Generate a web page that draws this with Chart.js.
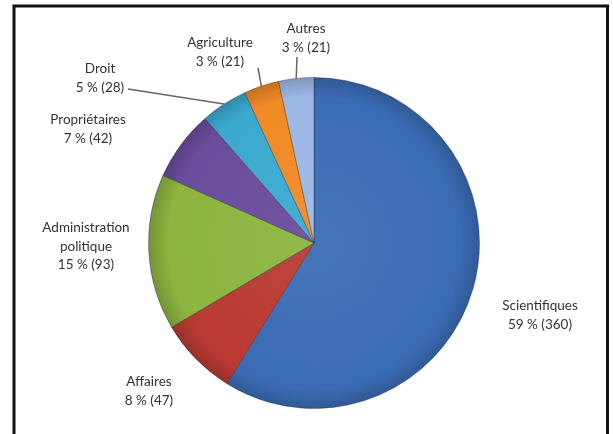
<!DOCTYPE html>
<html>
<head>
<meta charset="utf-8">
<script src="https://cdn.jsdelivr.net/npm/chart.js@4"></script>
<style>
  html, body { margin: 0; padding: 0; background: #fff; }
  #wrap { position: relative; width: 613px; height: 434px; }
</style>
</head>
<body>
<div id="wrap"><canvas id="pieChart" width="613" height="434"></canvas></div>
<script>
// data
const categories = ["Scientifiques", "Affaires", "Administration politique", "Propriétaires", "Droit", "Agriculture", "Autres"]
const counts = [360, 47, 93, 42, 28, 21, 21]
const percents = [59, 8, 15, 7, 5, 3, 3]

const colors = ['#3a6cb5', '#b93a32', '#8cb43f', '#6a4c9c', '#3ba9d0', '#f08a24', '#9db8e6']

// label boxes: text lines, centre x, first line y, optional leader start
const labelLines = [
  ["Scientifiques"],
  ["Affaires"],
  ["Administration", "politique"],
  ["Propriétaires"],
  ["Droit"],
  ["Agriculture"],
  ["Autres"]
]
const labelPos = [
  {x: 540, y: 306},
  {x: 149, y: 382},
  {x: 86, y: 228},
  {x: 88, y: 120},
  {x: 100, y: 69, lx: 128, ly: 89},
  {x: 220, y: 43, lx: 258, ly: 68},
  {x: 306, y: 29, lx: 297, ly: 57}
]
const lineH = 18.5

// lighten (f>0) or darken (f<0) a hex colour
function shade(hex, f) {
  const n = parseInt(hex.slice(1), 16)
  let rgb = [n >> 16, (n >> 8) & 255, n & 255]
  rgb = rgb.map(c => Math.round(f > 0 ? c + (255 - c) * f : c * (1 + f)))
  return 'rgb(' + rgb.join(',') + ')'
}

function sliceFill(c) {
  const base = colors[c.dataIndex]
  const area = c.chart.chartArea
  if (!area) return base
  const cx = (area.left + area.right) / 2
  const cy = (area.top + area.bottom) / 2
  const r = Math.min(area.right - area.left, area.bottom - area.top) / 2
  const g = c.chart.ctx.createRadialGradient(cx, cy, 0, cx, cy, r)
  g.addColorStop(0, shade(base, 0.06))
  g.addColorStop(0.88, base)
  g.addColorStop(1, shade(base, -0.18))
  return g
}

const framePlugin = {
  id: 'frame',
  afterDraw(chart) {
    const ctx = chart.ctx
    ctx.save()
    ctx.strokeStyle = '#111'
    ctx.lineWidth = 3
    ctx.beginPath()
    ctx.moveTo(14, 440)
    ctx.lineTo(14, 6)
    ctx.lineTo(607.5, 6)
    ctx.lineTo(607.5, 440)
    ctx.stroke()
    ctx.restore()
  }
}

const labelPlugin = {
  id: 'sliceLabels',
  afterDatasetsDraw(chart) {
    const ctx = chart.ctx
    const arcs = chart.getDatasetMeta(0).data
    ctx.save()
    ctx.font = '13.5px Lato'
    ctx.fillStyle = '#333'
    ctx.textAlign = 'center'
    ctx.textBaseline = 'middle'
    arcs.forEach((arc, i) => {
      const p = labelPos[i]
      const lines = labelLines[i].concat([percents[i] + ' % (' + counts[i] + ')'])
      lines.forEach((t, k) => ctx.fillText(t, p.x, p.y + k * lineH))
      if (p.lx !== undefined) {
        const mid = (arc.startAngle + arc.endAngle) / 2
        const ex = arc.x + Math.cos(mid) * arc.outerRadius
        const ey = arc.y + Math.sin(mid) * arc.outerRadius
        ctx.strokeStyle = '#666'
        ctx.lineWidth = 1.5
        ctx.beginPath()
        ctx.moveTo(p.lx, p.ly)
        ctx.lineTo(ex, ey)
        ctx.stroke()
      }
    })
    ctx.restore()
  }
}

new Chart(document.getElementById('pieChart'), {
  type: 'pie',
  data: {
    labels: categories,
    datasets: [{
      data: counts,
      backgroundColor: sliceFill,
      borderColor: 'rgba(30,30,50,0.35)',
      borderWidth: 1
    }]
  },
  options: {
    responsive: false,
    animation: false,
    layout: { padding: { left: 148, right: 133, top: 77, bottom: 25 } },
    plugins: {
      legend: { display: false },
      tooltip: { enabled: false }
    }
  },
  plugins: [labelPlugin, framePlugin]
})
</script>
</body>
</html>
